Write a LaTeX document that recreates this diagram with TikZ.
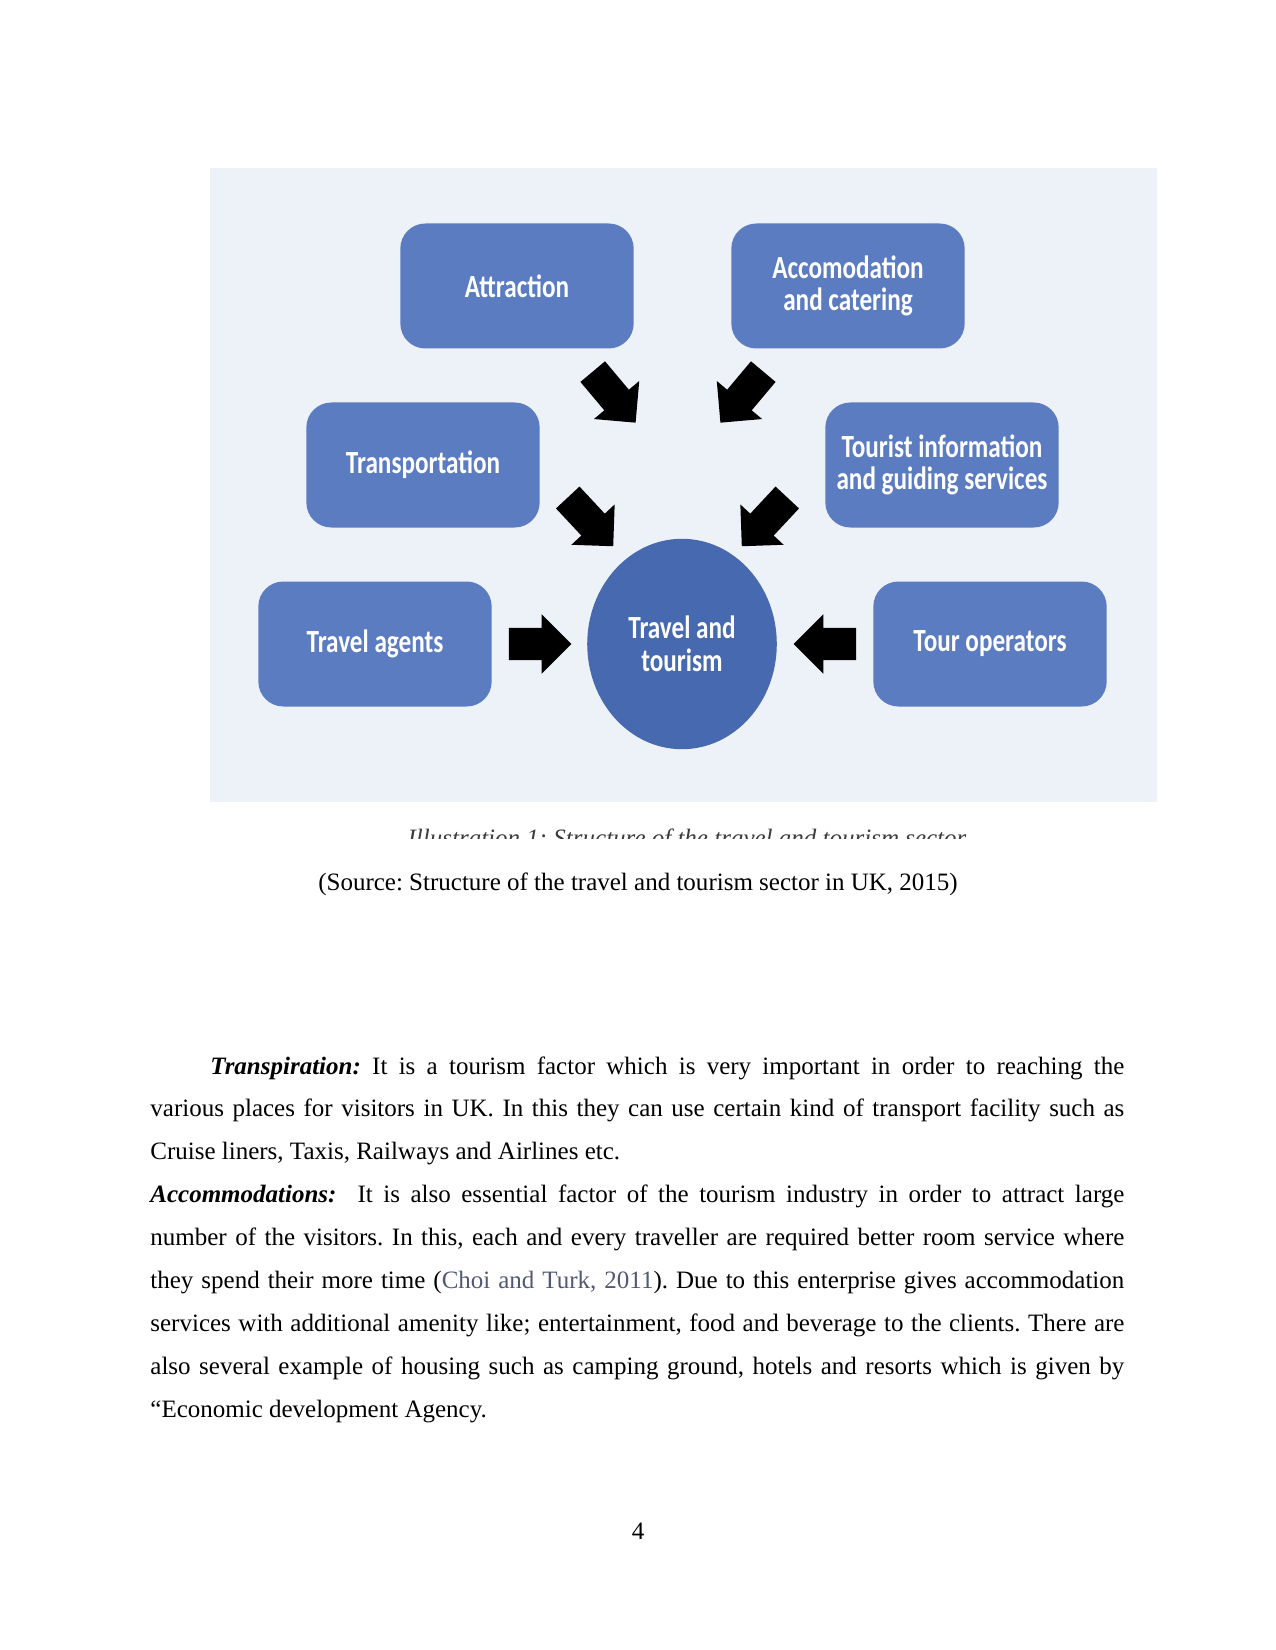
\documentclass[tikz,border=0pt]{standalone}
\usepackage{fontspec}
\setmainfont{Liberation Serif}
\newfontfamily\diagfont[FakeStretch=0.78]{Carlito}
\usetikzlibrary{shapes.geometric,shapes.arrows}
\frenchspacing

\definecolor{panelbg}{RGB}{237,241,248}
\definecolor{boxblue}{RGB}{91,124,193}
\definecolor{hubblue}{RGB}{70,105,175}
\definecolor{citegray}{RGB}{80,90,115}
\definecolor{capgray}{RGB}{60,60,60}

\tikzset{
  catbox/.style={rectangle, rounded corners=12pt, fill=boxblue,
    minimum width=112pt, minimum height=60pt, text=white, align=center,
    font=\diagfont\bfseries\fontsize{15.5}{15.7}\selectfont},
  hubnode/.style={ellipse, fill=hubblue, minimum width=91pt,
    minimum height=101pt, text=white, align=center, inner sep=0pt,
    font=\diagfont\bfseries\fontsize{15.5}{15.7}\selectfont},
  blockarrow/.style={single arrow, fill=black, inner sep=0pt,
    inner ysep=7.5pt, single arrow head extend=6.5pt, minimum height=#1},
  blockarrow/.default=32pt,
  bodytext/.style={font=\fontsize{12}{20.6}\selectfont}
}

\begin{document}
\begin{tikzpicture}[x=0.48pt, y=-0.48pt]
    % Pagina completa (1 unidad = 1 px)
    \useasboundingbox (0,0) rectangle (1275,1650);
    \fill[white] (0,0) rectangle (1275,1650);

    % Fondo del esquema
    \fill[panelbg] (210,168) rectangle (1157,802);

    % Cajas
    \node[catbox] (attr) at (517,286) {Attraction};
    \node[catbox] (accom) at (848,286) {Accomodation\\and catering};
    \node[catbox] (transp) at (423,465) {Transportation};
    \node[catbox] (touristinfo) at (942,465) {Tourist information\\and guiding services};
    \node[catbox] (agents) at (375,644) {Travel agents};
    \node[catbox] (operators) at (990,644) {Tour operators};

    % Centro
    \node[hubnode] (hub) at (682,644) {Travel and\\tourism};

    % Flechas de bloque
    \node[blockarrow, rotate=-50] (arrAttr) at (609,391) {};
    \node[blockarrow, rotate=-130] (arrAccom) at (747,391) {};
    \node[blockarrow, rotate=-47] (arrTransp) at (585,516) {};
    \node[blockarrow, rotate=-133] (arrTourist) at (770,516) {};
    \node[blockarrow=30pt] (arrAgents) at (532,644) {};
    \node[blockarrow=30pt, rotate=180] (arrOperators) at (833,644) {};

    % Pie de figura (cortado)
    \begin{scope}
      \clip (300,822) rectangle (1050,838);
      \node[anchor=base, text=capgray, font=\itshape\fontsize{12}{14}\selectfont] (caption) at (687,846)
        {Illustration 1: Structure of the travel and tourism sector};
    \end{scope}
    \node[anchor=base, bodytext] (source) at (638,890)
      {(Source: Structure of the travel and tourism sector in UK, 2015)};

    % Texto
    \node[anchor=north west, inner sep=0pt, text width=467.5pt, align=justify, bodytext] (body) at (150,1056)
      {\hspace*{28.8pt}\textbf{\textit{Transpiration:}} It is a tourism factor which is very important in order to reaching the\linebreak
       various places for visitors in UK. In this they can use certain kind of transport facility such as\linebreak
       Cruise liners, Taxis, Railways and Airlines etc.\par
       \textbf{\textit{Accommodations:}}\ \ It is also essential factor of the tourism industry in order to attract large\linebreak
       number of the visitors. In this, each and every traveller are required better room service where\linebreak
       they spend their more time ({\color{citegray}Choi and Turk, 2011}). Due to this enterprise gives accommodation\linebreak
       services with additional amenity like; entertainment, food and beverage to the clients. There are\linebreak
       also several example of housing such as camping ground, hotels and resorts which is given by\linebreak
       ``Economic development Agency.\par};

    % Numero de pagina
    \node[anchor=base, bodytext] (pagenum) at (638,1539) {4};
\end{tikzpicture}
\end{document}
